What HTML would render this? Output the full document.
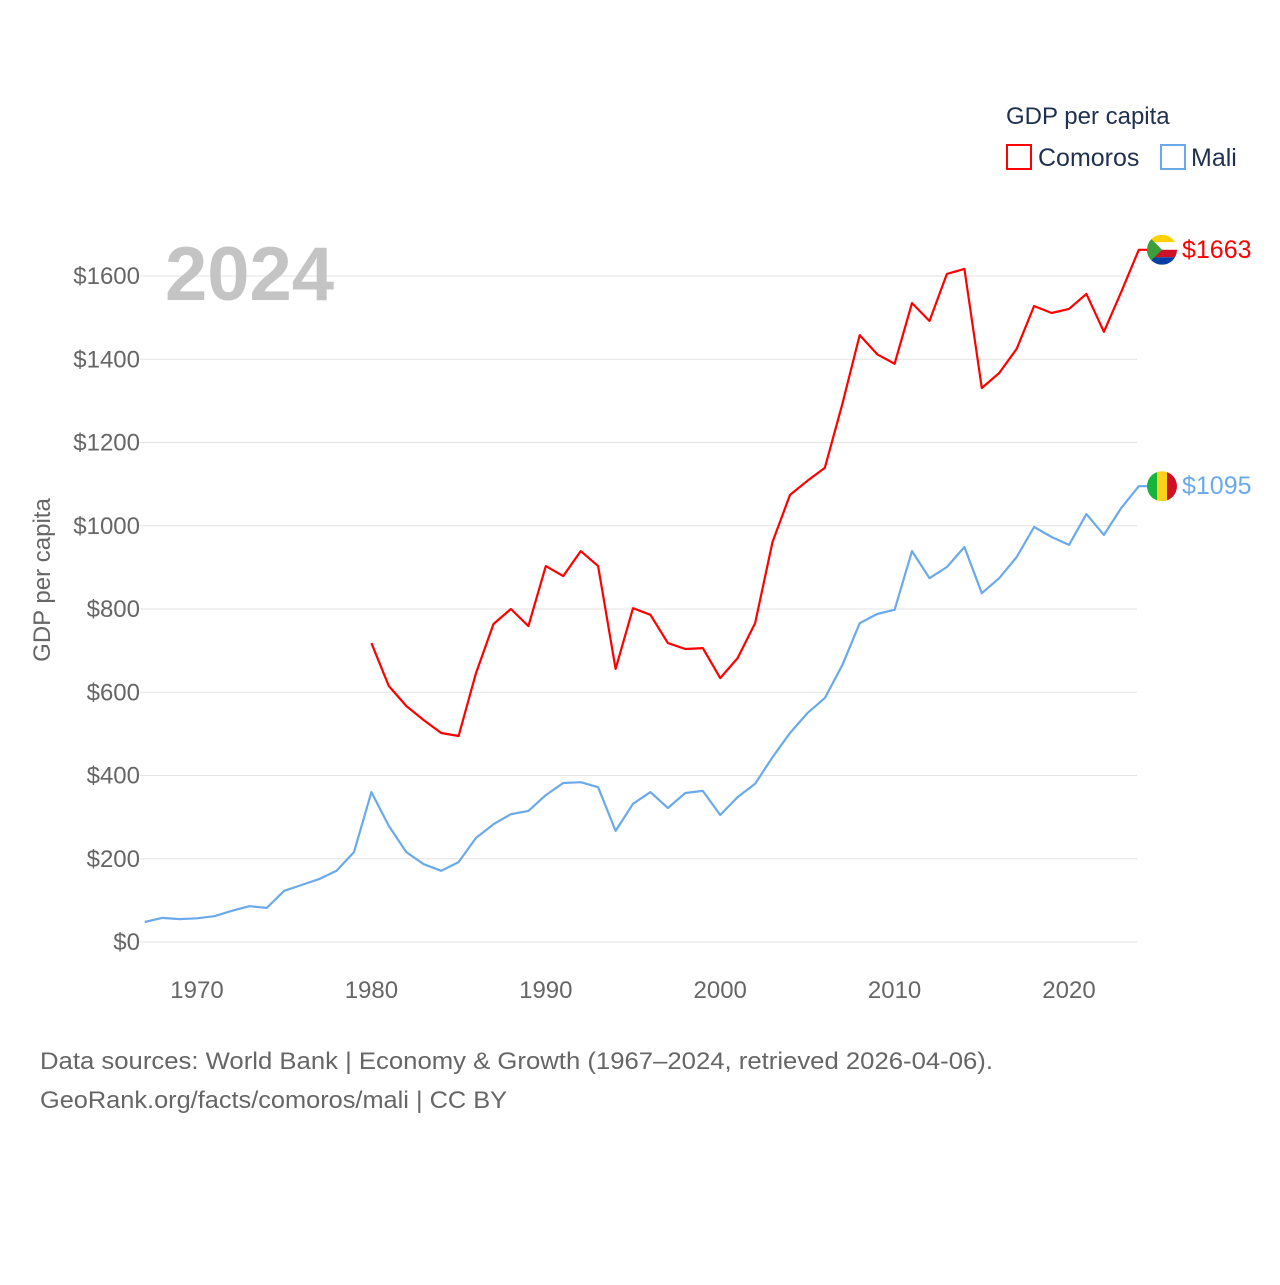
<!DOCTYPE html>
<html><head><meta charset="utf-8"><style>
body{margin:0;background:#fff;font-family:"Liberation Sans",sans-serif;}
svg text{font-family:"Liberation Sans",sans-serif;}
</style></head><body>
<svg width="1280" height="1280" viewBox="0 0 1280 1280">
<g id="grid"></g>
<text x="165" y="300" font-size="76" font-weight="bold" fill="#c4c4c4">2024</text>
<text transform="translate(50,580) rotate(-90)" text-anchor="middle" font-size="24" fill="#666">GDP per capita</text>
<g id="series"></g>
<g>
<text x="1006" y="124" font-size="24" fill="#1f3050">GDP per capita</text>
<g><rect x="1007" y="145" width="24" height="24" fill="none" stroke="#f00" stroke-width="2"/><text x="1038" y="166" font-size="25" fill="#1f3050">Comoros</text></g>
<g><rect x="1161" y="145" width="24" height="24" fill="none" stroke="#6aaaea" stroke-width="2"/><text x="1191" y="166" font-size="25" fill="#1f3050">Mali</text></g>
</g>
<text x="40" y="1069" font-size="24" fill="#666" textLength="953" lengthAdjust="spacingAndGlyphs">Data sources: World Bank | Economy &amp; Growth (1967–2024, retrieved 2026-04-06).</text>
<text x="40" y="1108" font-size="24" fill="#666" textLength="467" lengthAdjust="spacingAndGlyphs">GeoRank.org/facts/comoros/mali | CC BY</text>
</svg>
<script>
const maliYears=[1967,1968,1969,1970,1971,1972,1973,1974,1975,1976,1977,1978,1979,1980,1981,1982,1983,1984,1985,1986,1987,1988,1989,1990,1991,1992,1993,1994,1995,1996,1997,1998,1999,2000,2001,2002,2003,2004,2005,2006,2007,2008,2009,2010,2011,2012,2013,2014,2015,2016,2017,2018,2019,2020,2021,2022,2023,2024];
const maliValues=[48,58,55,57,62,75,86,82,123,137,151,171,216,360,279,216,187,171,192,250,283,307,315,353,382,384,372,267,332,360,322,358,363,305,348,380,444,502,550,586,665,766,788,798,939,874,901,949,838,874,925,997,973,954,1028,978,1043,1095];
const comorosYears=[1980,1981,1982,1983,1984,1985,1986,1987,1988,1989,1990,1991,1992,1993,1994,1995,1996,1997,1998,1999,2000,2001,2002,2003,2004,2005,2006,2007,2008,2009,2010,2011,2012,2013,2014,2015,2016,2017,2018,2019,2020,2021,2022,2023,2024];
const comorosValues=[718,615,567,533,502,495,646,764,800,759,903,879,939,903,656,802,786,718,704,706,634,682,766,961,1074,1108,1139,1292,1458,1412,1389,1535,1492,1605,1617,1331,1367,1425,1528,1511,1521,1557,1466,1562,1663];
const yTicks=[0,200,400,600,800,1000,1200,1400,1600];
const xTicks=[1970,1980,1990,2000,2010,2020];
const NS="http://www.w3.org/2000/svg";
const X=y=>197+(y-1970)*17.44;
const Y=v=>942-v*0.41625;
function mk(t,a,p){const e=document.createElementNS(NS,t);for(const k in a)e.setAttribute(k,a[k]);p.appendChild(e);return e;}
const grid=document.getElementById('grid');
yTicks.forEach(v=>{
 const l=mk('line',{x1:140,x2:1137,y1:Y(v),y2:Y(v),stroke:'#e3e3e3','stroke-width':1},grid);
 
 
 const t=mk('text',{x:140,y:Y(v)+8,'text-anchor':'end','font-size':24,fill:'#666'},grid);t.textContent='$'+v;
 
 
});
xTicks.forEach(v=>{
 const t=mk('text',{x:X(v),y:998,'text-anchor':'middle','font-size':24,fill:'#666'},grid);t.textContent=v;
 
 
});
const sg=document.getElementById('series');
function series(ys,vs,col,name,flag){
 const last=vs[vs.length-1];
 let d=ys.map((y,i)=>(i?'L':'M')+X(y).toFixed(1)+','+Y(vs[i]).toFixed(1)).join(' ')+' L1148,'+Y(last).toFixed(1);
 const p=mk('path',{d:d,fill:'none',stroke:col,'stroke-width':2.2,'stroke-linejoin':'round'},sg);
 
 
 const g=mk('g',{},sg);
 
 
 flag(g,1162,Y(last));
 const t=mk('text',{x:1182,y:Y(last)+8,'font-size':25,fill:col},sg);t.textContent='$'+last;
 
 
}
series(comorosYears,comorosValues,'#f00','comoros',(g,cx,cy)=>{
 const cp=mk('clipPath',{id:'cc'},g);mk('circle',{cx:cx,cy:cy,r:15},cp);
 const h=mk('g',{'clip-path':'url(#cc)'},g);
 const c=['#ffd100','#fff','#ce1126','#003da5'];
 c.forEach((col,i)=>mk('rect',{x:cx-15,y:cy-15+i*7.5,width:30,height:7.5,fill:col},h));
 mk('polygon',{points:`${cx-15},${cy-15} ${cx},${cy} ${cx-15},${cy+15}`,fill:'#3a9e3a'},h);
});
series(maliYears,maliValues,'#6aaaea','mali',(g,cx,cy)=>{
 const cp=mk('clipPath',{id:'mc'},g);mk('circle',{cx:cx,cy:cy,r:15},cp);
 const h=mk('g',{'clip-path':'url(#mc)'},g);
 ['#14b53a','#fcd116','#ce1126'].forEach((col,i)=>mk('rect',{x:cx-15+i*10,y:cy-15,width:10,height:30,fill:col},h));
});
</script>
</body></html>
